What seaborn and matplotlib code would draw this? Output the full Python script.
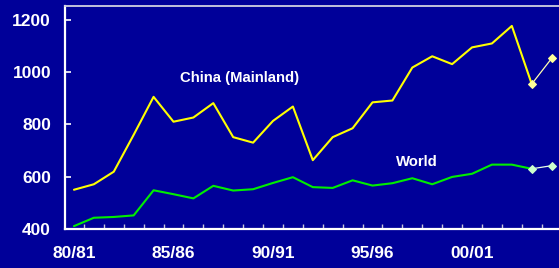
import pandas as pd
import matplotlib.pyplot as plt
import seaborn as sns
import numpy as np

# crop years 1980/81 .. 2004/05
years = ['80/81', '81/82', '82/83', '83/84', '84/85', '85/86', '86/87', '87/88',
         '88/89', '89/90', '90/91', '91/92', '92/93', '93/94', '94/95', '95/96',
         '96/97', '97/98', '98/99', '99/00', '00/01', '01/02', '02/03', '03/04', '04/05']
china = [550, 571, 619, 760, 905, 810, 826, 881, 751, 730, 813, 868, 663, 751,
         785, 884, 891, 1017, 1060, 1030, 1094, 1109, 1176, 954, 1052]
world = [411, 443, 446, 452, 548, 533, 517, 565, 547, 552, 576, 598, 560, 557,
         586, 566, 575, 594, 571, 599, 611, 646, 646, 630, 642]
label_years = ['80/81', '85/86', '90/91', '95/96', '00/01']
n_actual = 24  # last two points are estimates / forecast

df = pd.DataFrame({'idx': np.arange(len(years)), 'year': years,
                   'China': china, 'World': world})
act = df.iloc[:n_actual]
fc = df.iloc[n_actual - 1:]

bg = '#000099'
sns.set_style('white')
plt.rcParams['font.family'] = ['Liberation Sans', 'DejaVu Sans']
plt.rcParams['font.weight'] = 'bold'

fig = plt.figure(figsize=(5.59, 2.68), dpi=100, facecolor=bg)
ax = fig.add_axes([0.1163, 0.1455, 0.8837, 0.831])
ax.set_facecolor(bg)

sns.lineplot(data=act, x='idx', y='China', color='#FFFF00', linewidth=1.5, ax=ax)
sns.lineplot(data=act, x='idx', y='World', color='#00EE00', linewidth=1.5, ax=ax)
sns.lineplot(data=fc, x='idx', y='China', color='#FFFFB0', linewidth=0.9,
             marker='D', markersize=4.5, markerfacecolor='#FFFF99',
             markeredgecolor='#FFFF99', ax=ax)
sns.lineplot(data=fc, x='idx', y='World', color='#E8FFE8', linewidth=0.9,
             marker='D', markersize=4.5, markerfacecolor='#CCFFCC',
             markeredgecolor='#CCFFCC', ax=ax)

ax.text(8.3, 977, 'China (Mainland)', color='white', fontsize=10.7,
        fontweight='bold', ha='center', va='center')
ax.text(17.25, 655, 'World', color='white', fontsize=10.7,
        fontweight='bold', ha='center', va='center')

ax.set_xlim(-0.45, 24.37)
ax.set_ylim(400, 1251)
ax.set_yticks(range(400, 1201, 200))
ax.set_xticks([years.index(y) for y in label_years])
ax.set_xticklabels(label_years)
ax.set_xticks(np.arange(0.5, 24, 1), minor=True)
ax.set_xlabel('')
ax.set_ylabel('')

ax.tick_params(axis='y', left=True, direction='in', length=4.3, width=1.2,
               color='white', labelcolor='white', labelsize=12.5, pad=10)
ax.tick_params(axis='x', which='major', bottom=True, length=0,
               labelcolor='white', labelsize=12.5, pad=12)
ax.tick_params(axis='x', which='minor', bottom=True, direction='in',
               length=3.6, width=1, color='#C8C8D8')
for lab in ax.get_xticklabels() + ax.get_yticklabels():
    lab.set_fontweight('bold')

for side in ['left', 'bottom']:
    ax.spines[side].set_color('white')
    ax.spines[side].set_linewidth(1.6)
ax.spines['top'].set_color('#D0D0E0')
ax.spines['top'].set_linewidth(1.3)
ax.spines['right'].set_visible(False)

plt.savefig('out.png', dpi=100, facecolor=bg)
